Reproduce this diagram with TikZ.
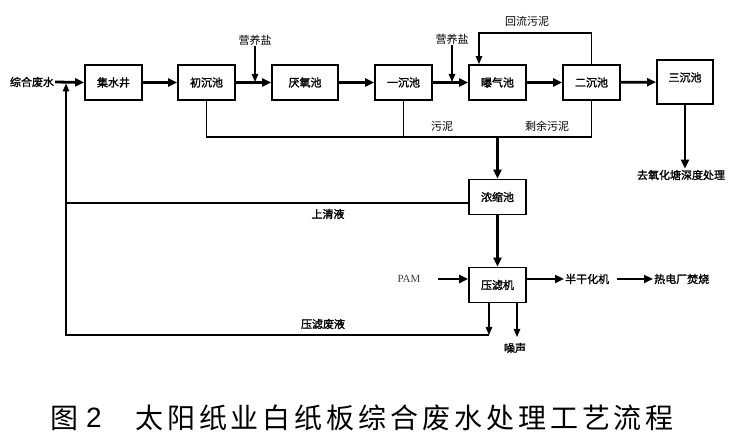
\documentclass[tikz,border=0pt]{standalone}
\usepackage{fontspec}
\setmainfont{Liberation Serif}
\newfontfamily\cjk{Noto Sans CJK SC}
\newfontfamily\cjkb[FakeBold=1.6]{Noto Sans CJK SC}
\newfontfamily\cjkcap[LetterSpace=14]{Noto Sans CJK SC}
\newfontfamily\capsans{Liberation Sans}
\usetikzlibrary{arrows.meta}
\begin{document}
\begin{tikzpicture}[x=1pt,y=-1pt,
  box/.style={draw, line width=1.8pt, minimum width=57pt, minimum height=35pt, inner sep=0pt, font=\cjkb\fontsize{11}{13}\selectfont},
  lblb/.style={inner sep=1pt, font=\cjkb\fontsize{11}{13}\selectfont},
  lbl/.style={inner sep=1pt, font=\cjk\fontsize{11}{13}\selectfont},
  flow/.style={line width=2.8pt, -{Triangle[length=9pt,width=8pt]}},
  thinflow/.style={line width=1.3pt, -{Triangle[length=8pt,width=6.5pt]}},
  pipe/.style={line width=1.3pt},
  sludge/.style={line width=1.8pt}
]
\useasboundingbox (0,0) rectangle (750,446);
\fill[white] (0,0) rectangle (750,446);

% main boxes
\node[box] (jsj) at (113.5,82.5) {集水井};
\node[box] (ccc) at (206.5,82.5) {初沉池};
\node[box, minimum width=66pt] (yyc) at (305,82.5) {厌氧池};
\node[box] (ycc) at (403.5,82.5) {一沉池};
\node[box] (bqc) at (497.5,82.5) {曝气池};
\node[box] (ecc) at (591.5,82.5) {二沉池};
\node[box, minimum width=56pt, minimum height=44pt, text depth=10pt] (scc) at (685,82) {三沉池};
\node[box] (nsc) at (497.5,197) {浓缩池};
\node[box] (ylj) at (497.5,285) {压滤机};

% input
\node[lblb] (zhfs) at (32,82) {综合废水};
\coordinate (J) at (66,83.5);
\draw[flow] (zhfs.east) -- (jsj.west);
\draw[flow] (jsj) -- (ccc);
\draw[flow] (ccc) -- (yyc);
\draw[flow] (yyc) -- (ycc);
\draw[flow] (ycc) -- (bqc);
\draw[flow] (bqc) -- (ecc);
\draw[flow] (ecc) -- (scc);

% nutrients
\node[lbl] (yys1) at (255,40) {营养盐};
\coordinate (n1) at (255,82);
\draw[thinflow] (yys1.south) -- (n1);
\node[lbl] (yys2) at (452,39) {营养盐};
\coordinate (n2) at (452,82);
\draw[thinflow] (yys2.south) -- (n2);

% return sludge
\coordinate (r1) at (479,33);
\draw[thinflow] (ecc.north) |- (r1) -- (r1 |- bqc.north);
\node[lbl] (hlwn) at (527,21) {回流污泥};

% sludge collection
\coordinate (sl) at (0,137);
\draw[sludge] (ccc.south) -- (ccc.south |- sl) -- (ecc.south |- sl) -- (ecc.south);
\draw[sludge] (ycc.south) -- (ycc.south |- sl);
\node[lbl] (wn) at (442,126) {污泥};
\node[lbl] (sywn) at (547,126) {剩余污泥};
\draw[flow] (bqc.south |- sl) -- (nsc.north);

% third clarifier outlet
\node[lblb] (qyh) at (681,175) {去氧化塘深度处理};
\draw[flow] (scc.south) -- (scc.south |- qyh.north);

% supernatant
\coordinate (qa) at (469,203);
\draw[pipe] (qa) -- (qa -| J);
\node[lblb] (sqy) at (328,214) {上清液};

% thickener to filter press
\draw[flow] (nsc) -- (ylj);

% PAM
\node[inner sep=1pt, font=\fontsize{11}{13}\selectfont, text=black!75] (pam) at (409,279) {PAM};
\coordinate (pa) at (438,279);
\draw[flow] (pa) -- (pa -| ylj.west);

% outputs
\node[lblb, anchor=west] (bgh) at (564,279) {半干化机};
\draw[flow] (ylj.east |- bgh) -- (bgh.west);
\node[lblb, anchor=west] (rdc) at (653,279) {热电厂焚烧};
\draw[flow] ([xshift=7pt]bgh.east) -- (rdc.west);

% filtrate and noise
\coordinate (d1) at (489,335);
\coordinate (d2) at (517,337);
\draw[thinflow] (d1 |- ylj.south) -- (d1);
\draw[thinflow] (d2 |- ylj.south) -- (d2);
\draw[pipe, -{Triangle[length=8pt,width=6.5pt]}] (d1) -| (J);
\node[lblb] (zs) at (515,348) {噪声};
\node[lblb] (ylfy) at (323,324) {压滤废液};

% caption
\node[inner sep=0pt, font=\cjk\fontsize{28}{30}\selectfont, anchor=west] (cap1) at (50,418) {图};
\node[inner sep=0pt, font=\capsans\fontsize{28}{30}\selectfont] (cap2) at (94,418) {2};
\node[inner sep=0pt, font=\cjkcap\fontsize{28}{30}\selectfont, anchor=west] (cap3) at (135,418) {太阳纸业白纸板综合废水处理工艺流程};
\end{tikzpicture}
\end{document}
